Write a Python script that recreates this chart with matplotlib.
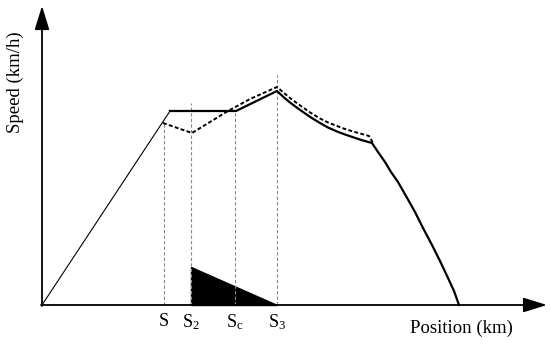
import matplotlib
matplotlib.use("Agg")
import matplotlib.pyplot as plt
from matplotlib.patches import Polygon

plt.rcParams['font.family'] = ['Liberation Serif', 'DejaVu Serif']
plt.rcParams['mathtext.fontset'] = 'custom'
plt.rcParams['mathtext.rm'] = 'Liberation Serif'
plt.rcParams['mathtext.it'] = 'Liberation Serif'

accel_x = [42, 170]
accel_y = [305, 111]

solid_x = [170, 236, 277, 284, 290, 296, 303, 311, 320, 328, 337, 345, 353, 362, 372,
           378, 385, 391, 398, 406, 415, 423, 432, 440, 448, 454, 459]
solid_y = [111, 111, 91, 97.5, 102.5, 107, 112, 117.5, 123, 127.5, 131.5, 134.5, 137.2, 140.2, 143,
           152, 162, 172, 182, 196, 212, 228, 245, 261, 278, 291, 305]

dashed_x = [163, 192, 210, 228, 250, 277, 284, 290, 296, 303, 311, 320, 328, 337,
            345, 353, 362, 369, 373]
dashed_y = [123, 133, 122, 111, 99, 87, 93, 98, 102.5, 107.5, 113, 118.5, 122.5, 126,
            129, 131.5, 134, 136, 143]

marks_x = [164, 191, 235, 277]
marks_top = [123, 103, 112, 75]
mark_labels = ['S', r'S$_2$', r'S$_\mathrm{c}$', r'S$_3$']

tri_x = [191, 191, 277]
tri_y = [267, 305, 305]

fig = plt.figure(figsize=(5.5, 3.43), dpi=100)
ax = fig.add_axes([0, 0, 1, 1])
ax.set_xlim(0, 550)
ax.set_ylim(343, 0)
ax.axis('off')

# axes with arrows
head = '-|>,head_length=1.45,head_width=0.45'
ax.annotate('', xy=(547, 305), xytext=(41, 305), annotation_clip=False,
            arrowprops=dict(arrowstyle=head, color='black', lw=1.3, shrinkA=0, shrinkB=0))
ax.annotate('', xy=(42, 6), xytext=(42, 306), annotation_clip=False,
            arrowprops=dict(arrowstyle=head, color='black', lw=1.3, shrinkA=0, shrinkB=0))

# vertical guide lines
for x, top in zip(marks_x, marks_top):
    ax.plot([x, x], [305, top], color='#888888', ls=(0, (3, 2)), lw=0.8)

ax.plot(accel_x, accel_y, color='black', lw=0.8)
ax.plot(solid_x, solid_y, color='black', lw=1.6)
ax.plot(dashed_x, dashed_y, color='black', lw=1.4, ls=(0, (2, 1.2)))

ax.add_patch(Polygon(list(zip(tri_x, tri_y)), closed=True, color='black'))

for x, lab in zip(marks_x, mark_labels):
    ax.text(x, 322, lab, ha='center', va='center', fontsize=13)

ax.text(461, 328, 'Position (km)', ha='center', va='center', fontsize=13.5)
ax.text(15, 82, 'Speed (km/h)', ha='center', va='center', rotation=90, fontsize=13.5)

fig.savefig('out.png', dpi=100)
